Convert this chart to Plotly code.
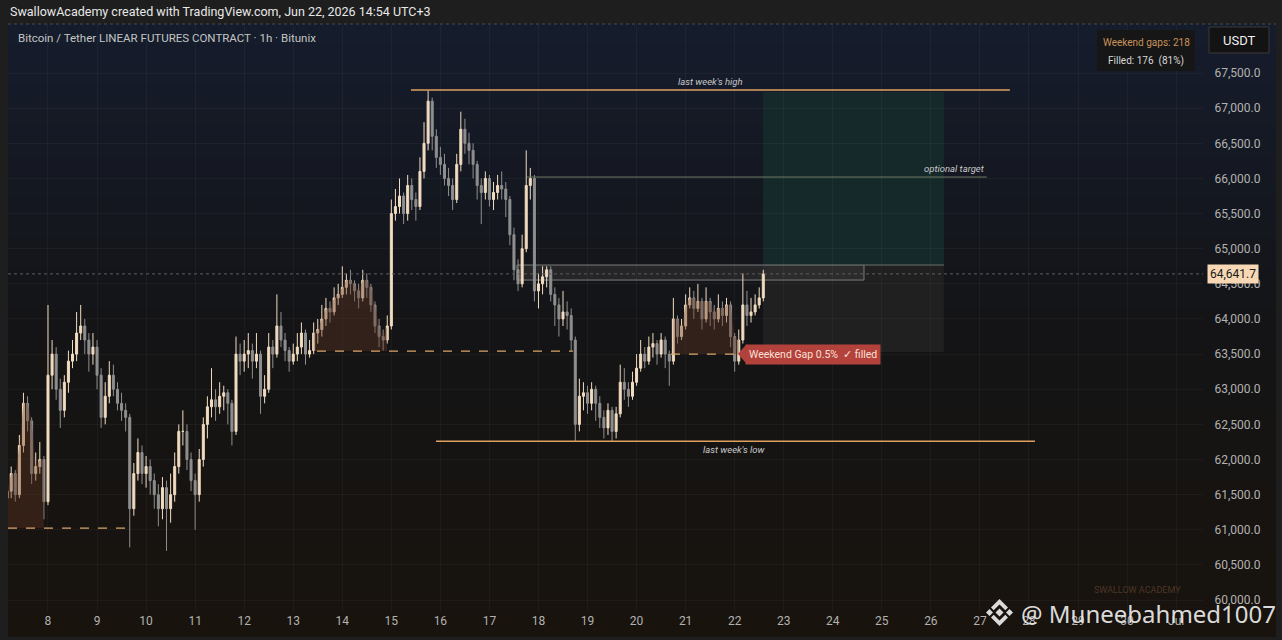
import pandas as pd
import plotly.graph_objects as go

# ---------------- data (2h candles) ----------------
START = "2026-06-07 04:00"
FIRST_OPEN = 61450
CLOSE = [
    61550, 61800, 61500, 62200, 62800, 62550, 61800, 61900, 62000, 61400,
    63200, 63500, 63000, 62700, 63100, 63400, 63500, 63800, 63900, 63700,
    63500, 63600, 63200, 62600, 62900, 63200, 63000, 62800, 62700, 62600,
    61300, 61800, 62100, 61800, 61900, 61700, 61500, 61300, 61600, 61300,
    61500, 61900, 62400, 62400, 62000, 61700, 61500, 62000, 62500, 62750,
    62850, 62750, 62900, 62950, 62800, 62400, 63500, 63400, 63500, 63550,
    63400, 63500, 62900, 63000, 63600, 63500, 63900, 63700, 63550, 63400,
    63500, 63600, 63800, 63500, 63550, 63800, 63850, 64000, 64150, 64100,
    64300, 64350, 64450, 64550, 64500, 64400, 64300, 64550, 64450, 64200,
    63900, 63750, 63700, 63900, 65500, 65600, 65750, 65500, 65900, 65700,
    65600, 66100, 66500, 67100, 66600, 66300, 66200, 66000, 65900, 65700,
    66200, 66700, 66500, 66400, 66200, 65900, 65800, 66000, 65700, 65800,
    65900, 65850, 65700, 65200, 64700, 64500, 65000, 65900, 66000, 64400,
    64500, 64600, 64700, 64350, 64200, 64000, 64100, 64050, 63700, 62500,
    62900, 62950, 62800, 63000, 62800, 62600, 62450, 62700, 62400, 62650,
    63100, 63000, 62900, 63100, 63300, 63500, 63400, 63600, 63650, 63500,
    63700, 63500, 63400, 64000, 63750, 63900, 64200, 64300, 64150, 64250,
    64000, 64250, 64100, 64000, 64150, 64050, 64200, 63750, 63400, 63700,
    64200, 64050, 64100, 64200, 64300, 64641.7,
]
HIGH = [
    61750, 61900, 61850, 62350, 62950, 62900, 62600, 62100, 62250, 62050,
    64200, 63700, 63600, 63150, 63200, 63550, 63700, 64100, 64200, 64000,
    63800, 63800, 63700, 63300, 63100, 63400, 63350, 63100, 62950, 62800,
    62650, 61950, 62300, 62200, 62050, 62000, 61800, 61650, 61750, 61700,
    61800, 62100, 62500, 62700, 62500, 62100, 61800, 62150, 62600, 62900,
    63300, 63000, 63100, 63050, 63000, 62850, 63750, 63650, 63700, 63800,
    63650, 63800, 63550, 63200, 63800, 63700, 64350, 64100, 63800, 63600,
    63650, 63800, 63950, 63850, 63700, 63950, 64000, 64200, 64300, 64250,
    64450, 64500, 64750, 64650, 64700, 64550, 64500, 64700, 64650, 64500,
    64250, 64000, 63850, 64050, 65700, 65850, 66000, 65800, 66050, 66000,
    65800, 66300, 66800, 67250, 67150, 66700, 66450, 66350, 66150, 66000,
    66350, 66950, 66850, 66650, 66500, 66250, 66000, 66100, 66050, 65950,
    66050, 66100, 65950, 65750, 65300, 64850, 65200, 66400, 66150, 66050,
    64650, 64750, 64750, 64750, 64450, 64300, 64400, 64250, 64150, 63750,
    63150, 63100, 63050, 63100, 63050, 62900, 62700, 62800, 62750, 62750,
    63350, 63300, 63100, 63250, 63500, 63700, 63600, 63750, 63800, 63700,
    63800, 63750, 63550, 64300, 64050, 64000, 64350, 64450, 64400, 64500,
    64300, 64450, 64300, 64200, 64350, 64250, 64300, 64250, 63800, 63850,
    64650, 64400, 64300, 64350, 64450, 64700,
]
LOW = [
    61300, 61450, 61400, 61450, 62100, 62400, 61650, 61700, 61800, 61150,
    61350, 63000, 62850, 62450, 62600, 62950, 63300, 63400, 63700, 63500,
    63250, 63350, 63000, 62450, 62500, 62800, 62900, 62700, 62550, 62400,
    60750, 61200, 61700, 61650, 61600, 61500, 61300, 61050, 61150, 60700,
    61100, 61400, 61800, 62200, 61850, 61550, 61000, 61400, 61900, 62300,
    62600, 62550, 62650, 62700, 62500, 62200, 62350, 63200, 63250, 63300,
    63150, 63300, 62650, 62800, 62950, 63300, 63450, 63600, 63400, 63250,
    63350, 63400, 63500, 63350, 63450, 63500, 63650, 63750, 63900, 63950,
    64050, 64200, 64300, 64350, 64350, 64250, 64150, 64250, 64300, 64100,
    63800, 63600, 63550, 63650, 63850, 65400, 65500, 65350, 65400, 65550,
    65400, 65550, 66000, 66400, 66400, 66150, 66050, 65900, 65750, 65550,
    65650, 66100, 66350, 66200, 66000, 65700, 65350, 65700, 65600, 65550,
    65700, 65700, 65450, 65050, 64550, 64400, 64450, 64950, 65700, 64250,
    64150, 64350, 64450, 64250, 63900, 63750, 63900, 63850, 63550, 62260,
    62400, 62700, 62650, 62700, 62550, 62450, 62300, 62350, 62250, 62300,
    62600, 62850, 62750, 62850, 63050, 63250, 63300, 63350, 63450, 63350,
    63450, 63300, 63050, 63350, 63650, 63700, 63850, 64150, 64000, 64100,
    63850, 63950, 63900, 63850, 63950, 63900, 63950, 63600, 63250, 63350,
    63650, 63900, 63950, 64050, 64150, 64250,
]

DAY_TICKS = list(pd.date_range("2026-06-08", "2026-07-01", freq="D"))
DAY_LABELS = [str(d) for d in range(8, 31)] + ["Jul"]
PRICE_TICKS = list(range(60000, 68000, 500))

LW_HIGH = 67260
LW_HIGH_SPAN = ["2026-06-15 09:36", "2026-06-27 14:40"]
LW_LOW = 62260
LW_LOW_SPAN = ["2026-06-15 21:50", "2026-06-28 02:55"]
OPT_TARGET = 66020
OPT_SPAN = ["2026-06-17 18:22", "2026-06-27 03:22"]
POS_SPAN = ["2026-06-22 13:51", "2026-06-26 06:24"]
POS_TARGET, POS_ENTRY, POS_STOP = 67230, 64770, 63530
ZONE_SPAN = ["2026-06-17 13:27", "2026-06-24 15:16"]
ZONE_TOP, ZONE_BOT = 64768, 64554
GAP_PRICE = [61025, 63544, 63500]
GAP_LINE_START = ["2026-06-07 04:26", "2026-06-13 11:37", "2026-06-20 16:48"]
GAP_LINE_END = ["2026-06-09 17:36", "2026-06-18 16:52", "2026-06-22 02:35"]
GAP_FILL_START = ["2026-06-07 04:00", "2026-06-13 10:00", "2026-06-20 18:00"]
GAP_FILL_END = ["2026-06-07 22:00", "2026-06-14 22:00", "2026-06-22 02:00"]
GAP_LABEL = "Weekend Gap 0.5%  ✓ filled"
GAPS_TOTAL, GAPS_FILLED, GAPS_PCT = 218, 176, 81

X_RANGE = ["2026-06-07 04:26", "2026-07-01 13:09"]
Y_RANGE = [59830, 68198]

# ---------------- build ----------------
t = pd.date_range(START, periods=len(CLOSE), freq="2h")
opens = [FIRST_OPEN] + CLOSE[:-1]
df = pd.DataFrame({"t": t, "o": opens, "h": HIGH, "l": LOW, "c": CLOSE})
df["h"] = df[["h", "o", "c"]].max(axis=1)
df["l"] = df[["l", "o", "c"]].min(axis=1)
last = CLOSE[-1]

W, H = 1282, 640
ML, MR, MT, MB = 8, 79, 24, 28
PW, PH = W - ML - MR, H - MT - MB


def px(x):
    return (x - ML) / PW


def py(y):
    return (H - MB - y) / PH


fig = go.Figure()

# weekend-gap fills
for p, s, e in zip(GAP_PRICE, GAP_FILL_START, GAP_FILL_END):
    seg = df[(df.t >= pd.Timestamp(s)) & (df.t <= pd.Timestamp(e))]
    tops = seg[["o", "c"]].max(axis=1).tolist()
    xs = list(seg.t) + list(seg.t)[::-1]
    ys = tops + [p] * len(seg)
    fig.add_trace(go.Scatter(x=xs, y=ys, fill="toself", mode="none",
                             fillcolor="rgba(100,54,34,0.38)", hoverinfo="skip"))

fig.add_trace(go.Candlestick(
    x=df.t, open=df.o, high=df.h, low=df.l, close=df.c,
    increasing=dict(line=dict(color="#f2dcc0", width=1), fillcolor="#f2dcc0"),
    decreasing=dict(line=dict(color="#8f8f8f", width=1), fillcolor="#8f8f8f"),
    whiskerwidth=0, hoverinfo="skip"))

shapes = []
# gradient background (styling)
stops = [(0.0, (21, 28, 44)), (0.5, (20, 20, 22)), (1.0, (24, 19, 13))]


def grad(f):
    for (a, ca), (b, cb) in zip(stops[:-1], stops[1:]):
        if a <= f <= b:
            k = (f - a) / (b - a)
            return "rgb(%d,%d,%d)" % tuple(round(ca[i] + (cb[i] - ca[i]) * k) for i in range(3))
    return "rgb(%d,%d,%d)" % stops[-1][1]


NB = 60
ytop, ybot = 24, 636
for k in range(NB):
    y0 = ytop + (ybot - ytop) * k / NB
    y1 = ytop + (ybot - ytop) * (k + 1) / NB + 1
    shapes.append(dict(type="rect", xref="paper", yref="paper", layer="below",
                       x0=px(8), x1=px(1276), y0=py(y1), y1=py(y0),
                       fillcolor=grad(k / (NB - 1)), line=dict(width=0)))
# header separator
shapes.append(dict(type="line", xref="paper", yref="paper", x0=px(8), x1=px(1276),
                   y0=py(24), y1=py(24), line=dict(color="#4a4a4a", width=1, dash="dot")))

# position boxes
shapes.append(dict(type="rect", xref="x", yref="y", layer="below", x0=POS_SPAN[0], x1=POS_SPAN[1],
                   y0=POS_ENTRY, y1=POS_TARGET, fillcolor="#15292b", line=dict(width=0)))
shapes.append(dict(type="rect", xref="x", yref="y", layer="below", x0=POS_SPAN[0], x1=POS_SPAN[1],
                   y0=POS_STOP, y1=POS_ENTRY, fillcolor="#202020", line=dict(width=0)))
# resistance zone
shapes.append(dict(type="rect", xref="x", yref="y", layer="below", x0=ZONE_SPAN[0], x1=ZONE_SPAN[1],
                   y0=ZONE_BOT, y1=ZONE_TOP, fillcolor="rgba(55,55,55,0.5)",
                   line=dict(color="#7c7c7c", width=1)))
shapes.append(dict(type="line", xref="x", yref="y", x0=ZONE_SPAN[1], x1=POS_SPAN[1],
                   y0=ZONE_TOP, y1=ZONE_TOP, line=dict(color="#6e6e6e", width=1)))
# current price dotted line
shapes.append(dict(type="line", xref="paper", yref="y", x0=0, x1=1, y0=last, y1=last,
                   line=dict(color="#5e5e5e", width=1, dash="dot")))
# levels
shapes.append(dict(type="line", xref="x", yref="y", x0=LW_HIGH_SPAN[0], x1=LW_HIGH_SPAN[1],
                   y0=LW_HIGH, y1=LW_HIGH, line=dict(color="#e0a060", width=1.5)))
shapes.append(dict(type="line", xref="x", yref="y", x0=LW_LOW_SPAN[0], x1=LW_LOW_SPAN[1],
                   y0=LW_LOW, y1=LW_LOW, line=dict(color="#e0a060", width=1.5)))
shapes.append(dict(type="line", xref="x", yref="y", x0=OPT_SPAN[0], x1=OPT_SPAN[1],
                   y0=OPT_TARGET, y1=OPT_TARGET, line=dict(color="#6f7d62", width=1)))
# weekend gap dashed lines
for p, s, e in zip(GAP_PRICE, GAP_LINE_START, GAP_LINE_END):
    shapes.append(dict(type="line", xref="x", yref="y", x0=s, x1=e, y0=p, y1=p,
                       line=dict(color="#d9a56c", width=1.2, dash="dash")))
# weekend gap label arrow
shapes.append(dict(type="path", xref="x", yref="y", xsizemode="pixel", ysizemode="pixel",
                   xanchor="2026-06-22 05:00", yanchor=GAP_PRICE[2],
                   path="M 1,-9 L -7,0 L 1,9 Z", fillcolor="#b4423c", line=dict(width=0)))

# Binance-like logo (pixel geometry)
lx, ly = 999.5, 612.5


def poly(pts):
    return "M " + " L ".join("%.5f,%.5f" % (px(lx + a), py(ly + b)) for a, b in pts) + " Z"


logo_parts = [
    [(0, -4), (4, 0), (0, 4), (-4, 0)],
    [(-10, -3.5), (-6.5, 0), (-10, 3.5), (-13.5, 0)],
    [(10, -3.5), (13.5, 0), (10, 3.5), (6.5, 0)],
    [(0, -13.5), (8.5, -5), (5.8, -2.3), (0, -8.1), (-5.8, -2.3), (-8.5, -5)],
    [(0, 13.5), (8.5, 5), (5.8, 2.3), (0, 8.1), (-5.8, 2.3), (-8.5, 5)],
]
for pts in logo_parts:
    shapes.append(dict(type="path", xref="paper", yref="paper", path=poly(pts),
                       fillcolor="rgba(235,235,235,0.92)", line=dict(width=0)))

# top-right stats box + USDT box
shapes.append(dict(type="rect", xref="paper", yref="paper", x0=px(1097), x1=px(1195),
                   y0=py(71), y1=py(30), fillcolor="#161616", line=dict(width=0)))
shapes.append(dict(type="rect", xref="paper", yref="paper", x0=px(1209), x1=px(1269),
                   y0=py(53), y1=py(27), fillcolor="#131313", line=dict(color="#3a3a3a", width=1)))

ann = []
F = "Roboto, sans-serif"
ann.append(dict(xref="paper", yref="paper", x=px(8), y=py(12), xanchor="left", yanchor="middle",
                text="SwallowAcademy created with TradingView.com, Jun 22, 2026 14:54 UTC+3",
                showarrow=False, font=dict(family=F, size=12.5, color="#e8e8e8")))
ann.append(dict(xref="paper", yref="paper", x=px(16), y=py(38), xanchor="left", yanchor="middle",
                text="Bitcoin / Tether LINEAR FUTURES CONTRACT · 1h · Bitunix",
                showarrow=False, font=dict(family=F, size=11.5, color="#c4c4c4")))
ann.append(dict(xref="paper", yref="paper", x=px(1146), y=py(42), xanchor="center", yanchor="middle",
                text="Weekend gaps: %d" % GAPS_TOTAL, showarrow=False,
                font=dict(family=F, size=10, color="#c9935c")))
ann.append(dict(xref="paper", yref="paper", x=px(1146), y=py(61), xanchor="center", yanchor="middle",
                text="Filled: %d  (%d%%)" % (GAPS_FILLED, GAPS_PCT), showarrow=False,
                font=dict(family=F, size=10, color="#d8d8d8")))
ann.append(dict(xref="paper", yref="paper", x=px(1239), y=py(40), xanchor="center", yanchor="middle",
                text="USDT", showarrow=False, font=dict(family=F, size=13, color="#f0f0f0")))
ann.append(dict(xref="paper", yref="y", x=px(1207), y=last, xanchor="left", yanchor="middle",
                text="%s" % format(last, ",.1f"), showarrow=False, bgcolor="#f6d8b4",
                borderpad=2, font=dict(family=F, size=12, color="#1a1a1a")))
ann.append(dict(xref="x", yref="y", x="2026-06-21 12:00", y=LW_HIGH, xanchor="center", yanchor="bottom",
                yshift=1, text="<i>last week's high</i>", showarrow=False,
                font=dict(family=F, size=9.5, color="#c8c8c8")))
ann.append(dict(xref="x", yref="y", x="2026-06-22 00:00", y=LW_LOW, xanchor="center", yanchor="top",
                yshift=-1, text="<i>last week's low</i>", showarrow=False,
                font=dict(family=F, size=9.5, color="#c8c8c8")))
ann.append(dict(xref="x", yref="y", x=OPT_SPAN[1], y=OPT_TARGET, xanchor="right", yanchor="bottom",
                yshift=1, text="<i>optional target</i>", showarrow=False,
                font=dict(family=F, size=9.5, color="#c8c8c8")))
ann.append(dict(xref="x", yref="y", x="2026-06-22 05:00", y=GAP_PRICE[2], xanchor="left",
                yanchor="middle", text=GAP_LABEL, showarrow=False, bgcolor="#b4423c",
                borderpad=3, font=dict(family=F, size=10.5, color="#f8e0d6")))
ann.append(dict(xref="paper", yref="paper", x=px(1137), y=py(590), xanchor="center", yanchor="middle",
                text="SWALLOW ACADEMY", showarrow=False, font=dict(family=F, size=9, color="#4e3628")))
ann.append(dict(xref="paper", yref="paper", x=px(1019), y=py(613), xanchor="left", yanchor="middle",
                text="@ Muneebahmed1007", showarrow=False,
                font=dict(family="Noto Sans, sans-serif", size=24, color="rgba(238,238,238,0.93)")))

fig.update_layout(
    width=W, height=H, margin=dict(l=ML, r=MR, t=MT, b=MB),
    paper_bgcolor="#1e1e1e", plot_bgcolor="rgba(0,0,0,0)", showlegend=False,
    font=dict(family=F, size=12, color="#b2b2b2"),
    shapes=shapes, annotations=ann,
    xaxis=dict(type="date", range=X_RANGE, rangeslider=dict(visible=False),
               tickmode="array", tickvals=DAY_TICKS, ticktext=DAY_LABELS,
               showgrid=True, gridcolor="rgba(255,255,255,0.035)", zeroline=False,
               showline=False, ticks="", tickfont=dict(size=12, color="#b2b2b2")),
    yaxis=dict(side="right", range=Y_RANGE, tickmode="array", tickvals=PRICE_TICKS,
               tickformat=",.1f", showgrid=True, gridcolor="rgba(255,255,255,0.035)",
               zeroline=False, showline=False, ticks="outside", ticklen=8,
               tickcolor="rgba(0,0,0,0)", tickfont=dict(size=12, color="#b2b2b2")),
)

fig.write_html("out.html", post_script="document.body.style.margin='0';",
               config={"displayModeBar": False})
